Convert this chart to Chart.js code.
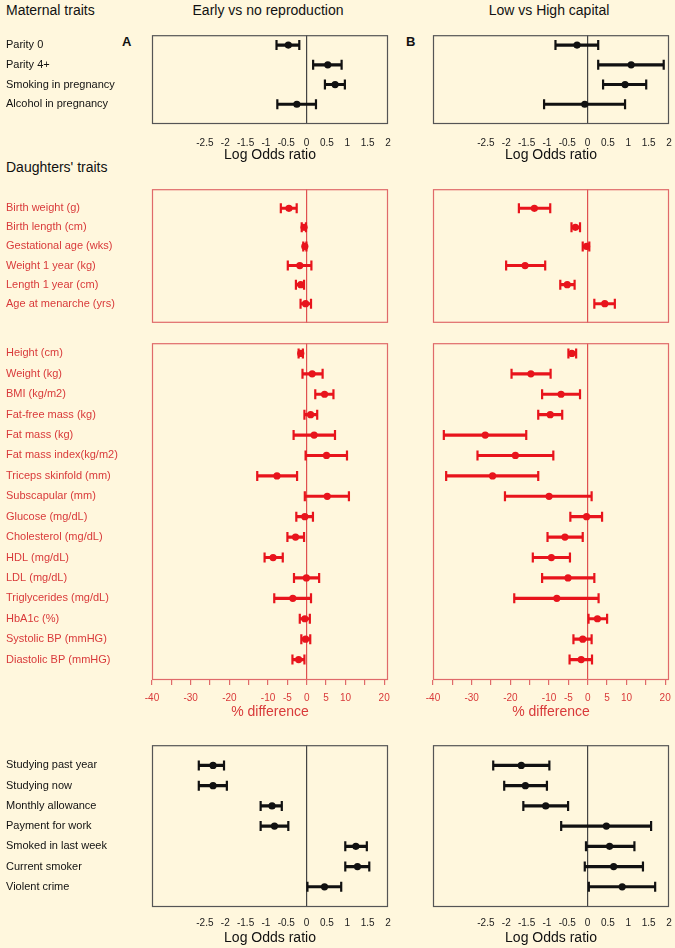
<!DOCTYPE html>
<html><head><meta charset="utf-8">
<script src="https://cdn.jsdelivr.net/npm/chart.js@4.4.1/dist/chart.umd.min.js"></script>
<style>
html,body{margin:0;padding:0;background:#FFF7DD;width:675px;height:948px;overflow:hidden;font-family:"Liberation Sans",Arial,sans-serif;}
.t{position:absolute;font-size:14px;line-height:18px;color:#111;white-space:nowrap;}
.c{position:absolute;}
</style></head><body>
<div class="t" style="left:6px;top:1px;">Maternal traits</div>
<div class="t" style="left:118px;top:1px;width:300px;text-align:center;">Early vs no reproduction</div>
<div class="t" style="left:399px;top:1px;width:300px;text-align:center;">Low vs High capital</div>
<div class="t" style="left:6px;top:158px;">Daughters' traits</div>
<div class="t" style="left:122px;top:34px;font-weight:bold;font-size:13px;line-height:16px;">A</div>
<div class="t" style="left:406px;top:34px;font-weight:bold;font-size:13px;line-height:16px;">B</div>
<script>
// ---------- DATA ----------
const maternalLabels = ['Parity 0','Parity 4+','Smoking in pregnancy','Alcohol in pregnancy'];
const matEarlyEst = [-0.45, 0.52, 0.70, -0.24];
const matEarlyLo  = [-0.74, 0.16, 0.45, -0.72];
const matEarlyHi  = [-0.18, 0.86, 0.94, 0.23];
const matCapEst = [-0.26, 1.07, 0.92, -0.07];
const matCapLo  = [-0.79, 0.26, 0.38, -1.07];
const matCapHi  = [0.26, 1.87, 1.44, 0.92];

const birthLabels = ['Birth weight (g)','Birth length (cm)','Gestational age (wks)','Weight 1 year (kg)','Length 1 year (cm)','Age at menarche (yrs)'];
const birthEarlyEst = [-4.6, -0.7, -0.5, -1.8, -1.55, -0.3];
const birthEarlyLo  = [-6.7, -1.3, -0.9, -4.9, -2.8, -1.6];
const birthEarlyHi  = [-2.6, -0.2, -0.1, 1.2, -0.7, 1.1];
const birthCapEst = [-13.8, -3.2, -0.3, -16.2, -5.3, 4.4];
const birthCapLo  = [-17.8, -4.2, -1.3, -21.1, -7.1, 1.7];
const birthCapHi  = [-9.7, -2.0, 0.4, -11.0, -3.4, 7.0];

const bodyLabels = ['Height (cm)','Weight (kg)','BMI (kg/m2)','Fat-free mass (kg)','Fat mass (kg)','Fat mass index(kg/m2)','Triceps skinfold (mm)','Subscapular (mm)','Glucose (mg/dL)','Cholesterol (mg/dL)','HDL (mg/dL)','LDL (mg/dL)','Triglycerides (mg/dL)','HbA1c (%)','Systolic BP (mmHG)','Diastolic BP (mmHG)'];
const bodyEarlyEst = [-1.55, 1.4, 4.6, 1.0, 1.9, 5.1, -7.7, 5.3, -0.5, -2.9, -8.7, -0.1, -3.6, -0.5, -0.3, -2.1];
const bodyEarlyLo  = [-2.1, -1.1, 2.2, -0.6, -3.4, -0.3, -12.8, -0.5, -2.7, -5.0, -10.9, -3.3, -8.4, -1.8, -1.4, -3.7];
const bodyEarlyHi  = [-1.0, 4.1, 6.9, 2.7, 7.3, 10.4, -2.5, 10.9, 1.6, -0.7, -6.2, 3.2, 1.1, 0.8, 0.9, -0.6];
const bodyCapEst = [-4.1, -14.7, -6.9, -9.7, -26.5, -18.7, -24.6, -10.0, -0.3, -5.9, -9.4, -5.1, -8.0, 2.5, -1.3, -1.7];
const bodyCapLo  = [-5.0, -19.7, -11.8, -12.8, -37.2, -28.5, -36.6, -21.4, -4.5, -10.4, -14.2, -11.8, -19.0, 0.2, -3.7, -4.7];
const bodyCapHi  = [-3.0, -9.6, -2.0, -6.6, -15.9, -8.9, -12.8, 1.0, 3.7, -1.3, -4.6, 1.7, 2.8, 5.0, 1.0, 1.1];

const socialLabels = ['Studying past year','Studying now','Monthly allowance','Payment for work','Smoked in last week','Current smoker','Violent crime'];
const socEarlyEst = [-2.30, -2.30, -0.85, -0.79, 1.21, 1.25, 0.44];
const socEarlyLo  = [-2.65, -2.65, -1.13, -1.13, 0.95, 0.95, 0.02];
const socEarlyHi  = [-2.03, -1.96, -0.61, -0.45, 1.48, 1.54, 0.85];
const socCapEst = [-1.63, -1.53, -1.03, 0.46, 0.54, 0.64, 0.85];
const socCapLo  = [-2.32, -2.05, -1.58, -0.65, -0.04, -0.07, 0.03];
const socCapHi  = [-0.94, -1.00, -0.48, 1.56, 1.15, 1.36, 1.66];

const logOddsTicks = [-2.5, -2, -1.5, -1, -0.5, 0, 0.5, 1, 1.5, 2];
const pctTicks = [-40, -35, -30, -25, -20, -15, -10, -5, 0, 5, 10, 15, 20];
const pctTickLabels = [-40, -30, -20, -10, -5, 0, 5, 10, 20];

// ---------- STYLE ----------
const BLACK = '#111111', BLACK_FRAME = '#555555', BLACK_ZERO = '#444444';
const RED = '#E8141C', RED_FRAME = '#E06A6A', RED_ZERO = '#E05050', RED_TEXT = '#D93A3A';
Chart.defaults.font.family = '"Liberation Sans", Arial, sans-serif';
Chart.defaults.animation = false;

const framePlugin = {
  id: 'frame',
  beforeDatasetsDraw(chart, args, opts) {
    const a = chart.chartArea, ctx = chart.ctx;
    ctx.save();
    ctx.strokeStyle = opts.color; ctx.lineWidth = 1.2;
    ctx.strokeRect(a.left + 0.5, a.top + 0.5, a.right - a.left - 1, a.bottom - a.top - 1);
    ctx.restore();
  }
};

function makePanel(o) {
  const padL = o.labels ? 6 : 24, padR = 24, padT = 4;
  const axisH = o.axis === 'none' ? 0 : 42;
  const yw = o.labels ? o.boxLeft - padL : 0;
  const left = o.labels ? 0 : o.boxLeft - padL;
  const W = padL + yw + o.boxW + padR;
  const H = padT + o.boxH + axisH;
  const cv = document.createElement('canvas');
  cv.width = W; cv.height = H; cv.className = 'c';
  cv.style.left = left + 'px'; cv.style.top = (o.boxTop - padT) + 'px';
  cv.style.width = W + 'px'; cv.style.height = H + 'px';
  document.body.appendChild(cv);

  const tickVals = o.axis === 'pct' ? pctTicks : (o.axis === 'logodds' ? logOddsTicks : [0]);
  const zeroColor = o.red ? RED_ZERO : BLACK_ZERO;
  const col = o.red ? RED : BLACK;

  new Chart(cv, {
    type: 'scatter',
    data: {
      datasets: [
        { type: 'bar', indexAxis: 'y', order: 2,
          data: o.est.map((_, i) => ({ y: i, x: [o.lo[i], o.hi[i]] })),
          backgroundColor: col, borderWidth: 0, barThickness: 2.5 },
        { type: 'scatter', order: 1,
          data: o.lo.map((v, i) => ({ x: v, y: i })).concat(o.hi.map((v, i) => ({ x: v, y: i }))),
          pointStyle: 'line', rotation: 90, pointRadius: 5, borderColor: col, borderWidth: 2.2, backgroundColor: col },
        { type: 'scatter', order: 0,
          data: o.est.map((v, i) => ({ x: v, y: i })),
          pointRadius: 3.6, backgroundColor: col, borderWidth: 0 }
      ]
    },
    options: {
      responsive: false, devicePixelRatio: 1, animation: false,
      events: [],
      layout: { padding: { left: padL, right: padR, top: padT, bottom: 0 } },
      plugins: { legend: { display: false }, tooltip: { enabled: false }, frame: { color: o.red ? RED_FRAME : BLACK_FRAME } },
      scales: {
        x: {
          type: 'linear', min: o.xMin, max: o.xMax, bounds: 'data', offset: false,
          afterBuildTicks: s => { s.ticks = tickVals.map(v => ({ value: v })); },
          afterFit: s => { s.height = axisH; },
          border: { display: false },
          grid: {
            offset: false,
            color: c => (c.tick && c.tick.value === 0) ? zeroColor : 'rgba(0,0,0,0)',
            lineWidth: 1.2,
            drawTicks: o.axis === 'pct', tickLength: 5, tickColor: RED_FRAME, tickWidth: 1.2
          },
          ticks: {
            display: o.axis !== 'none', autoSkip: false, maxRotation: 0, minRotation: 0,
            padding: o.axis === 'pct' ? 7 : (o.bottomPad || 13),
            font: { size: 10 }, color: o.red ? RED_TEXT : '#222',
            callback: (v) => o.axis === 'pct' ? (pctTickLabels.includes(v) ? String(v) : '') : String(v)
          },
          title: {
            display: o.axis !== 'none', text: o.axis === 'pct' ? '% difference' : 'Log Odds ratio',
            font: { size: 14 }, color: o.red ? RED_TEXT : '#111',
            padding: { top: 0, bottom: o.axis === 'pct' ? 1 : 2 }
          }
        },
        y: {
          type: 'linear', reverse: true, min: o.yMin, max: o.yMax, bounds: 'data', offset: false,
          display: !!o.labels,
          afterBuildTicks: s => { s.ticks = o.est.map((_, i) => ({ value: i })); },
          afterFit: s => { s.width = yw; },
          border: { display: false },
          grid: { display: false, offset: false },
          ticks: {
            autoSkip: false, crossAlign: 'far', padding: 0,
            font: { size: 11 }, color: o.red ? RED_TEXT : '#111',
            callback: (v, i) => o.labels ? o.labels[i] : ''
          }
        }
      }
    },
    plugins: [framePlugin]
  });
}

const LX = 152, RX = 433, BW = 236;
// Maternal
makePanel({ labels: maternalLabels, est: matEarlyEst, lo: matEarlyLo, hi: matEarlyHi, boxLeft: LX, boxW: BW, boxTop: 32, boxH: 92, xMin: -3.8, xMax: 2.0, yMin: -0.5, yMax: 4, axis: 'logodds' });
makePanel({ est: matCapEst, lo: matCapLo, hi: matCapHi, boxLeft: RX, boxW: BW, boxTop: 32, boxH: 92, xMin: -3.8, xMax: 2.0, yMin: -0.5, yMax: 4, axis: 'logodds' });
// Daughters birth
makePanel({ red: true, labels: birthLabels, est: birthEarlyEst, lo: birthEarlyLo, hi: birthEarlyHi, boxLeft: LX, boxW: BW, boxTop: 186, boxH: 144, xMin: -40, xMax: 21, yMin: -1, yMax: 6, axis: 'none' });
makePanel({ red: true, est: birthCapEst, lo: birthCapLo, hi: birthCapHi, boxLeft: RX, boxW: BW, boxTop: 186, boxH: 144, xMin: -40, xMax: 21, yMin: -1, yMax: 6, axis: 'none' });
// Daughters body
makePanel({ red: true, labels: bodyLabels, est: bodyEarlyEst, lo: bodyEarlyLo, hi: bodyEarlyHi, boxLeft: LX, boxW: BW, boxTop: 340, boxH: 340, xMin: -40, xMax: 21, yMin: -0.5, yMax: 16, axis: 'pct' });
makePanel({ red: true, est: bodyCapEst, lo: bodyCapLo, hi: bodyCapHi, boxLeft: RX, boxW: BW, boxTop: 340, boxH: 340, xMin: -40, xMax: 21, yMin: -0.5, yMax: 16, axis: 'pct' });
// Social
makePanel({ labels: socialLabels, est: socEarlyEst, lo: socEarlyLo, hi: socEarlyHi, boxLeft: LX, boxW: BW, boxTop: 742, boxH: 165, xMin: -3.8, xMax: 2.0, yMin: -1, yMax: 7, axis: 'logodds', bottomPad: 10 });
makePanel({ est: socCapEst, lo: socCapLo, hi: socCapHi, boxLeft: RX, boxW: BW, boxTop: 742, boxH: 165, xMin: -3.8, xMax: 2.0, yMin: -1, yMax: 7, axis: 'logodds', bottomPad: 10 });
</script>
</body></html>
